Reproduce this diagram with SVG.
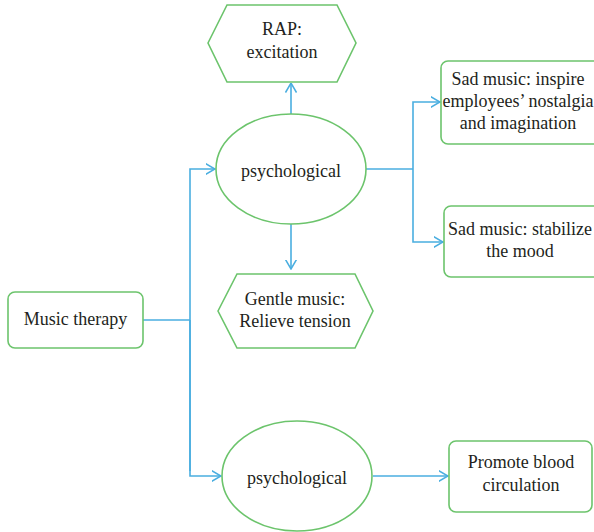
<svg xmlns="http://www.w3.org/2000/svg" width="594" height="532" viewBox="0 0 594 532">
<defs>
<marker id="arr" viewBox="0 0 10 12" refX="9.5" refY="6" markerWidth="10" markerHeight="12" markerUnits="userSpaceOnUse" orient="auto">
<polyline points="0,0.5 9.5,6 0,11.5" fill="none" stroke="#4aaee0" stroke-width="1.5"/>
</marker>
<style>
.n{fill:#fff;stroke:#6cc46c;stroke-width:1.6}
.c{fill:none;stroke:#4aaee0;stroke-width:1.6}
.t{font-size:18px;fill:#231f20;text-anchor:middle}
</style>
</defs>
<rect width="594" height="532" fill="#fff"/>
<g id="connectors">
<polyline class="c" points="143,320 190,320"/>
<polyline class="c" points="190,471 190,169 215,169" marker-end="url(#arr)"/>
<polyline class="c" points="190,320 190,476 221,476" marker-end="url(#arr)"/>
<line class="c" x1="291" y1="114" x2="291" y2="83" marker-end="url(#arr)"/>
<line class="c" x1="291" y1="224" x2="291" y2="269" marker-end="url(#arr)"/>
<polyline class="c" points="366,169 413,169"/>
<polyline class="c" points="413,169 413,102 440,102" marker-end="url(#arr)"/>
<polyline class="c" points="413,169 413,242 443,242" marker-end="url(#arr)"/>
<line class="c" x1="373" y1="476" x2="448" y2="476" marker-end="url(#arr)"/>
</g>
<g font-family="Liberation Serif">
<g id="rap">
<polygon class="n" points="208,43 227,5 337,5 356,43 337,82 227,82"/>
<text class="t" x="282" y="35">RAP:</text>
<text class="t" x="282" y="58">excitation</text>
</g>
<g id="psych1">
<ellipse class="n" cx="291" cy="169" rx="75" ry="55"/>
<text class="t" x="291" y="177">psychological</text>
</g>
<g id="gentle">
<polygon class="n" points="218,311 237,274 355,274 373,311 355,348 237,348"/>
<text class="t" x="295" y="305">Gentle music:</text>
<text class="t" x="295" y="327">Relieve tension</text>
</g>
<g id="therapy">
<rect class="n" x="8" y="292" width="135" height="56" rx="7"/>
<text class="t" x="75.5" y="325">Music therapy</text>
</g>
<g id="sad1">
<rect class="n" x="441" y="61" width="160" height="83" rx="7"/>
<text class="t" x="518" y="85">Sad music: inspire</text>
<text class="t" x="518" y="107">employees’ nostalgia</text>
<text class="t" x="518" y="129">and imagination</text>
</g>
<g id="sad2">
<rect class="n" x="444" y="206" width="157" height="71" rx="7"/>
<text class="t" x="520" y="235">Sad music: stabilize</text>
<text class="t" x="520" y="257">the mood</text>
</g>
<g id="psych2">
<ellipse class="n" cx="297" cy="476" rx="75" ry="55"/>
<text class="t" x="297" y="484">psychological</text>
</g>
<g id="blood">
<rect class="n" x="449" y="441" width="143" height="71" rx="7"/>
<text class="t" x="521" y="468">Promote blood</text>
<text class="t" x="521" y="491">circulation</text>
</g>
</g>
</svg>
